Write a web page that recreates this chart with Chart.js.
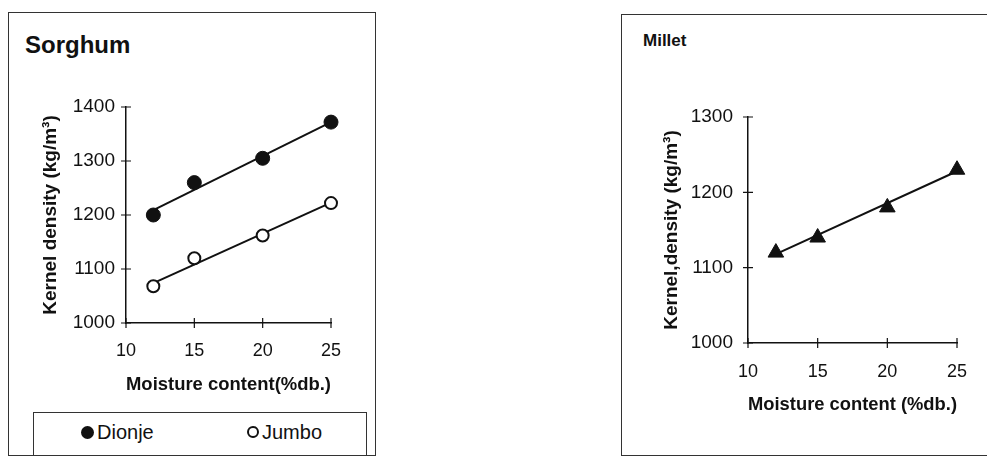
<!DOCTYPE html>
<html lang="en">
<head>
  <meta charset="UTF-8" />
  <title>Kernel density vs moisture content</title>
  <script src="https://cdn.jsdelivr.net/npm/chart.js"></script>
  <style>
    *{margin:0;padding:0;box-sizing:border-box}
    body{width:987px;height:457px;background:#fff;overflow:hidden;position:relative;
      font-family:'Liberation Sans',Arial,sans-serif;color:#111}
    .panel{position:absolute;border:1px solid #333}
    #sorghumBox{left:8px;top:12px;width:368px;height:444px}
    #milletBox{left:621px;top:14px;width:380px;height:442px}
    .title{position:absolute;font-weight:bold;line-height:1}
    #sorghumTitle{left:25px;top:33px;font-size:24px}
    #milletTitle{left:643px;top:32px;font-size:17px}
    canvas{position:absolute}
    #sorghumChart{left:8px;top:12px}
    #milletChart{left:621px;top:14px}
    .legend-box{position:absolute;left:33px;top:412px;width:334px;height:44px;border:1px solid #333}
    .leg{position:absolute;top:421px;font-size:20px;line-height:22px;display:flex;align-items:center}
    .dot{display:inline-block;width:13px;height:13px;border-radius:50%;margin-right:3px}
    .filled{background:#111}
    .open{border:2px solid #111;background:#fff;width:12px;height:12px}
  </style>
</head>
<body>
  <div class="panel" id="sorghumBox"></div>
  <div class="panel" id="milletBox"></div>
  <div class="title" id="sorghumTitle">Sorghum</div>
  <div class="title" id="milletTitle">Millet</div>
  <canvas id="sorghumChart" width="368" height="384"></canvas>
  <canvas id="milletChart" width="366" height="402"></canvas>
  <div class="legend-box"></div>
  <div class="leg" style="left:81px"><span class="dot filled"></span>Dionje</div>
  <div class="leg" style="left:247px"><span class="dot open"></span>Jumbo</div>

  <script>
    // valeurs
    const moisture = [12, 15, 20, 25];
    const dionje = [1200, 1260, 1305, 1372];
    const jumbo = [1068, 1120, 1162, 1222];
    const millet = [1120, 1140, 1180, 1230];
    // droites de tendance (extrémités)
    const fitX = [12, 25];
    const dionjeFit = [1209, 1372];
    const jumboFit = [1074, 1223];
    const milletFit = [1118, 1228];
    const xTicks = [10, 15, 20, 25];

    Chart.defaults.font.family = "'Liberation Sans', Arial, sans-serif";
    Chart.defaults.color = '#111';

    const pts = (xs, ys) => xs.map((x, i) => ({ x, y: ys[i] }));

    const crossTicks = {
      id: 'crossTicks',
      afterDraw(chart) {
        const { ctx, chartArea: a, scales: { x, y } } = chart;
        ctx.save();
        ctx.strokeStyle = '#111';
        ctx.lineWidth = 1.2;
        ctx.beginPath();
        y.ticks.forEach(t => {
          const py = y.getPixelForValue(t.value);
          ctx.moveTo(a.left - 5, py); ctx.lineTo(a.left + 5, py);
        });
        x.ticks.forEach(t => {
          const px = x.getPixelForValue(t.value);
          ctx.moveTo(px, a.bottom - 5); ctx.lineTo(px, a.bottom + 5);
        });
        ctx.stroke();
        ctx.restore();
      }
    };

    function makeChart(id, datasets, o) {
      return new Chart(document.getElementById(id), {
        type: 'scatter',
        data: { datasets },
        plugins: [crossTicks],
        options: {
          responsive: false,
          animation: false,
          layout: { padding: { left: 0, top: o.top, right: o.right, bottom: 0 } },
          plugins: { legend: { display: false }, tooltip: { enabled: false } },
          scales: {
            x: {
              type: 'linear', min: 10, max: 25,
              afterBuildTicks: s => { s.ticks = xTicks.map(v => ({ value: v })); },
              afterFit: s => { s.height = 73; },
              grid: { display: false, drawTicks: false },
              border: { display: true, color: '#111', width: 1.5 },
              ticks: { font: { size: 18 }, padding: o.xPad, color: '#111', callback: v => String(v) },
              title: { display: true, text: o.xTitle, font: { size: 19, weight: 'bold' }, padding: { top: 0, bottom: 0 }, color: '#111' }
            },
            y: {
              min: 1000, max: o.yMax,
              afterBuildTicks: s => { s.ticks = o.yTicks.map(v => ({ value: v })); },
              afterFit: s => { s.width = o.yWidth; },
              grid: { display: false, drawTicks: false },
              border: { display: true, color: '#111', width: 1.5 },
              ticks: { font: { size: 19 }, padding: o.yPad, color: '#111', callback: v => String(v) },
              title: { display: true, text: o.yTitle, font: { size: 19, weight: 'bold' }, padding: { top: o.yTitlePad, bottom: 0 }, color: '#111' }
            }
          }
        }
      });
    }

    makeChart('sorghumChart', [
      { data: pts(moisture, dionje), pointStyle: 'circle', pointRadius: 7, pointBackgroundColor: '#111', pointBorderColor: '#111', showLine: false, clip: false },
      { data: pts(moisture, jumbo), pointStyle: 'circle', pointRadius: 6, pointBackgroundColor: '#fff', pointBorderColor: '#111', pointBorderWidth: 2, showLine: false, clip: false },
      { data: pts(fitX, dionjeFit), showLine: true, borderColor: '#111', borderWidth: 2, pointRadius: 0, clip: false },
      { data: pts(fitX, jumboFit), showLine: true, borderColor: '#111', borderWidth: 2, pointRadius: 0, clip: false }
    ], {
      top: 95, right: 45, yWidth: 118, yPad: 11, xPad: 17, yMax: 1400,
      yTicks: [1000, 1100, 1200, 1300, 1400], yTitlePad: 31,
      xTitle: 'Moisture content(%db.)', yTitle: 'Kernel density (kg/m³)'
    });

    makeChart('milletChart', [
      { data: pts(moisture, millet), pointStyle: 'triangle', pointRadius: 9, pointBackgroundColor: '#111', pointBorderColor: '#111', showLine: false, clip: false },
      { data: pts(fitX, milletFit), showLine: true, borderColor: '#111', borderWidth: 2, pointRadius: 0, clip: false }
    ], {
      top: 103, right: 30, yWidth: 127, yPad: 15, xPad: 18, yMax: 1300,
      yTicks: [1000, 1100, 1200, 1300], yTitlePad: 39,
      xTitle: 'Moisture content (%db.)', yTitle: 'Kernel,density (kg/m³)'
    });
  </script>
</body>
</html>
